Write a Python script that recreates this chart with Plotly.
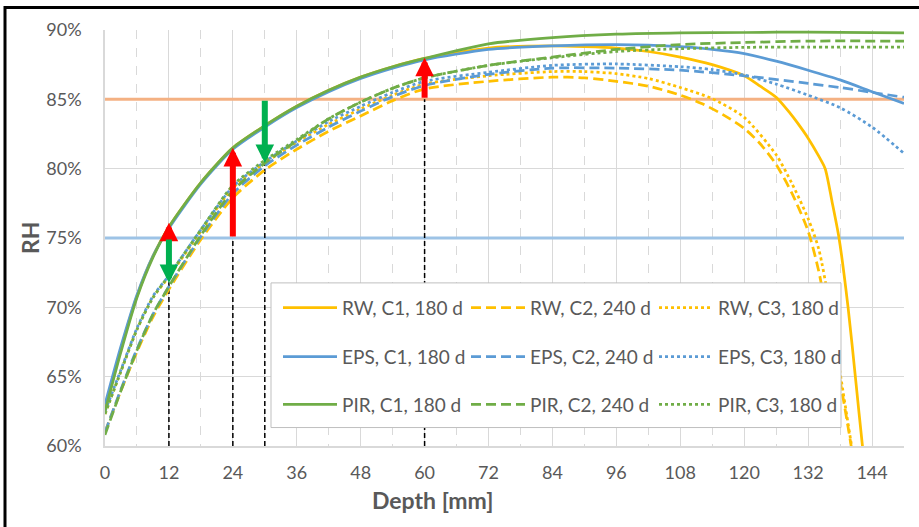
import plotly.graph_objects as go

# ---------------- data ----------------
rw_c1_x = [0,3,6,9,12,18,24,30,36,42,48,54,60,72,84,90,96,102,108,114,120,123,126,128.6,130,132,134,135.2,136.5,137.8,139.5,141,142.2,143]
rw_c1_y = [62.6,67.0,70.8,73.7,75.8,79.0,81.5,83.1,84.5,85.65,86.6,87.35,87.95,88.7,88.85,88.8,88.7,88.45,88.05,87.5,86.7,85.95,85.15,84.0,83.3,82.2,80.9,80.0,77.6,75.0,70.0,64.5,60.0,57.5]

rw_c2_x = [0,3,6,9,12,18,24,30,36,42,48,54,60,72,84,90,96,102,108,112,116,120,123,126,129,132,134,136,138,140,141]
rw_c2_y = [61.0,64.0,66.8,69.3,71.3,74.9,77.9,79.9,81.4,82.7,83.8,84.9,85.75,86.3,86.6,86.55,86.3,85.95,85.3,84.7,83.9,82.9,81.8,80.3,78.2,75.5,72.6,68.5,64.7,60.2,57.5]

rw_c3_x = [0,3,6,9,12,18,24,30,36,42,48,54,60,72,84,90,96,102,108,114,120,126,129,132,134,136,138,140,141]
rw_c3_y = [62.3,65.4,68.4,70.7,72.2,75.5,78.6,80.4,81.9,83.2,84.3,85.3,86.1,86.7,87.0,87.0,86.85,86.5,85.85,85.05,83.7,81.0,78.9,76.4,74.2,70.2,65.3,60.4,58.0]

eps_c1_x = [0,3,6,9,12,18,24,30,36,42,48,54,60,72,84,96,108,114,120,126,132,138,144,150]
eps_c1_y = [63.0,67.2,70.9,73.7,75.7,78.9,81.4,83.0,84.4,85.55,86.5,87.25,87.85,88.6,88.85,88.95,88.8,88.6,88.3,87.75,87.1,86.4,85.55,84.7]

eps_c2_x = [0,3,6,9,12,18,24,30,36,42,48,54,60,72,84,96,108,120,132,138,144,150]
eps_c2_y = [61.0,64.1,67.0,69.5,71.5,75.1,78.2,80.2,81.7,83.0,84.15,85.2,86.0,86.8,87.25,87.25,87.1,86.7,86.15,85.85,85.5,85.15]

eps_c3_x = [0,3,6,9,12,18,24,30,36,42,48,54,60,72,84,96,108,114,120,126,132,138,144,150]
eps_c3_y = [62.5,65.5,68.5,70.8,72.3,75.6,78.7,80.5,82.0,83.4,84.5,85.5,86.3,86.95,87.45,87.55,87.35,87.15,86.75,86.1,85.3,84.4,83.0,81.1]

pir_c1_x = [0,3,6,9,12,18,24,30,36,42,48,54,60,72,84,96,108,120,132,150]
pir_c1_y = [62.5,66.8,70.7,73.6,75.8,79.0,81.5,83.1,84.5,85.65,86.6,87.35,87.95,89.0,89.45,89.7,89.8,89.82,89.85,89.8]

pir_c2_x = [0,3,6,9,12,18,24,30,36,42,48,54,60,72,84,96,108,120,132,150]
pir_c2_y = [60.8,64.0,66.9,69.5,71.5,75.2,78.4,80.4,82.0,83.6,84.8,85.8,86.55,87.45,88.05,88.6,88.95,89.1,89.2,89.2]

pir_c3_x = [0,3,6,9,12,18,24,30,36,42,48,54,60,72,84,96,108,120,132,150]
pir_c3_y = [62.3,65.4,68.4,70.7,72.3,75.6,78.8,80.6,82.1,83.6,84.8,85.8,86.55,87.45,88.0,88.45,88.65,88.75,88.76,88.76]

thresholds = [85, 75]
threshold_colors = ["#F4B183", "#9DC3E6"]

marker_x = [12, 24, 30, 60]
marker_top = [71.8, 75.0, 80.4, 85.0]

arrow_x = [12, 12, 24, 30, 60]
arrow_from = [74.8, 75.0, 75.0, 85.0, 85.0]
arrow_to = [76.1, 71.75, 81.5, 80.4, 88.0]

x_ticks = [0, 12, 24, 36, 48, 60, 72, 84, 96, 108, 120, 132, 144]

# ---------------- styles ----------------
YEL, BLU, GRN = "#FFC000", "#5B9BD5", "#70AD47"
FONT = "Lato"
TXT = "#595959"
LW = 2.75
DASH = "10px,5px"
DOT = "dot"

fig = go.Figure()

for t, c in zip(thresholds, threshold_colors):
    fig.add_trace(go.Scatter(x=[0, 150], y=[t, t], mode="lines",
                             line=dict(color=c, width=3), showlegend=False, hoverinfo="skip"))

for mx, mt in zip(marker_x, marker_top):
    fig.add_trace(go.Scatter(x=[mx, mx], y=[60, mt], mode="lines",
                             line=dict(color="black", width=1.5, dash="5px,3px"),
                             showlegend=False, hoverinfo="skip"))

series = [
    ("RW, C1, 180 d", rw_c1_x, rw_c1_y, YEL, "solid", "legend"),
    ("RW, C2, 240 d", rw_c2_x, rw_c2_y, YEL, DASH, "legend"),
    ("RW, C3, 180 d", rw_c3_x, rw_c3_y, YEL, DOT, "legend"),
    ("EPS, C1, 180 d", eps_c1_x, eps_c1_y, BLU, "solid", "legend2"),
    ("EPS, C2, 240 d", eps_c2_x, eps_c2_y, BLU, DASH, "legend2"),
    ("EPS, C3, 180 d", eps_c3_x, eps_c3_y, BLU, DOT, "legend2"),
    ("PIR, C1, 180 d", pir_c1_x, pir_c1_y, GRN, "solid", "legend3"),
    ("PIR, C2, 240 d", pir_c2_x, pir_c2_y, GRN, DASH, "legend3"),
    ("PIR, C3, 180 d", pir_c3_x, pir_c3_y, GRN, DOT, "legend3"),
]
for name, xs, ys, col, dash, lg in series:
    fig.add_trace(go.Scatter(x=xs, y=ys, name=name, mode="lines", legend=lg,
                             line=dict(color=col, width=LW, dash=dash, shape="spline", smoothing=0.7)))

# arrows
for ax_, a0, a1 in zip(arrow_x, arrow_from, arrow_to):
    col = "#FF0000" if a1 > a0 else "#00B050"
    fig.add_annotation(x=ax_, y=a1, ax=ax_, ay=a0, xref="x", yref="y", axref="x", ayref="y",
                       text="", showarrow=True, arrowhead=2, arrowsize=0.62, arrowwidth=6,
                       arrowcolor=col, standoff=0)

# plot-area geometry helpers (pixels -> paper)
L, R, T, B = 105, 904, 29.5, 446.5
W, H = 919, 527
def px(x): return (x - L) / (R - L)
def py(y): return (B - y) / (B - T)

# legend box
fig.add_shape(type="rect", xref="paper", yref="paper", x0=px(271), x1=px(841), y0=py(428), y1=py(283),
              fillcolor="white", line=dict(color="#BFBFBF", width=1), layer="above")
# outer frame (top and left edges visible; others fall outside the picture)
fig.add_shape(type="rect", xref="paper", yref="paper", x0=px(5), x1=px(935), y0=py(545), y1=py(7),
              line=dict(color="black", width=3), fillcolor="rgba(0,0,0,0)", layer="above")

# titles
fig.add_annotation(text="<b>Depth [mm]</b>", xref="paper", yref="paper", x=px(432), y=py(501),
                   showarrow=False, font=dict(family=FONT, size=23, color=TXT), xanchor="center", yanchor="middle")
fig.add_annotation(text="<b>RH</b>", xref="paper", yref="paper", x=px(30), y=0.5, textangle=-90,
                   showarrow=False, font=dict(family=FONT, size=23, color=TXT), xanchor="center", yanchor="middle")

leg_common = dict(orientation="h", entrywidth=119, entrywidthmode="pixels", bgcolor="rgba(0,0,0,0)",
                  borderwidth=0, font=dict(family=FONT, size=19, color=TXT), xanchor="left",
                  yanchor="middle", x=px(278), traceorder="normal", itemwidth=54)

fig.update_layout(
    width=W, height=H,
    margin=dict(l=L, r=W - R, t=T, b=H - B, pad=0, autoexpand=False),
    paper_bgcolor="white", plot_bgcolor="white",
    font=dict(family=FONT, color=TXT),
    legend=dict(y=py(308), **leg_common),
    legend2=dict(y=py(357), **leg_common),
    legend3=dict(y=py(405), **leg_common),
    xaxis=dict(range=[0, 150], tickvals=x_ticks, showgrid=True, gridcolor="#D9D9D9", gridwidth=1,
               showline=True, linecolor="#D9D9D9", linewidth=1.5, zeroline=False, ticks="",
               tickfont=dict(family=FONT, size=18, color=TXT), ticklabelstandoff=10,
               minor=dict(dtick=6, tick0=0, showgrid=True, gridcolor="#D9D9D9", griddash="dash", gridwidth=1)),
    yaxis=dict(range=[60, 90], dtick=5, ticksuffix="%", showgrid=True, gridcolor="#D9D9D9", gridwidth=1,
               showline=True, linecolor="#D9D9D9", linewidth=1.5, zeroline=False, ticks="",
               tickfont=dict(family=FONT, size=18, color=TXT), ticklabelstandoff=18),
)

fig.write_html("out.html", config={"displayModeBar": False},
               post_script="document.body.style.margin='0px';")
